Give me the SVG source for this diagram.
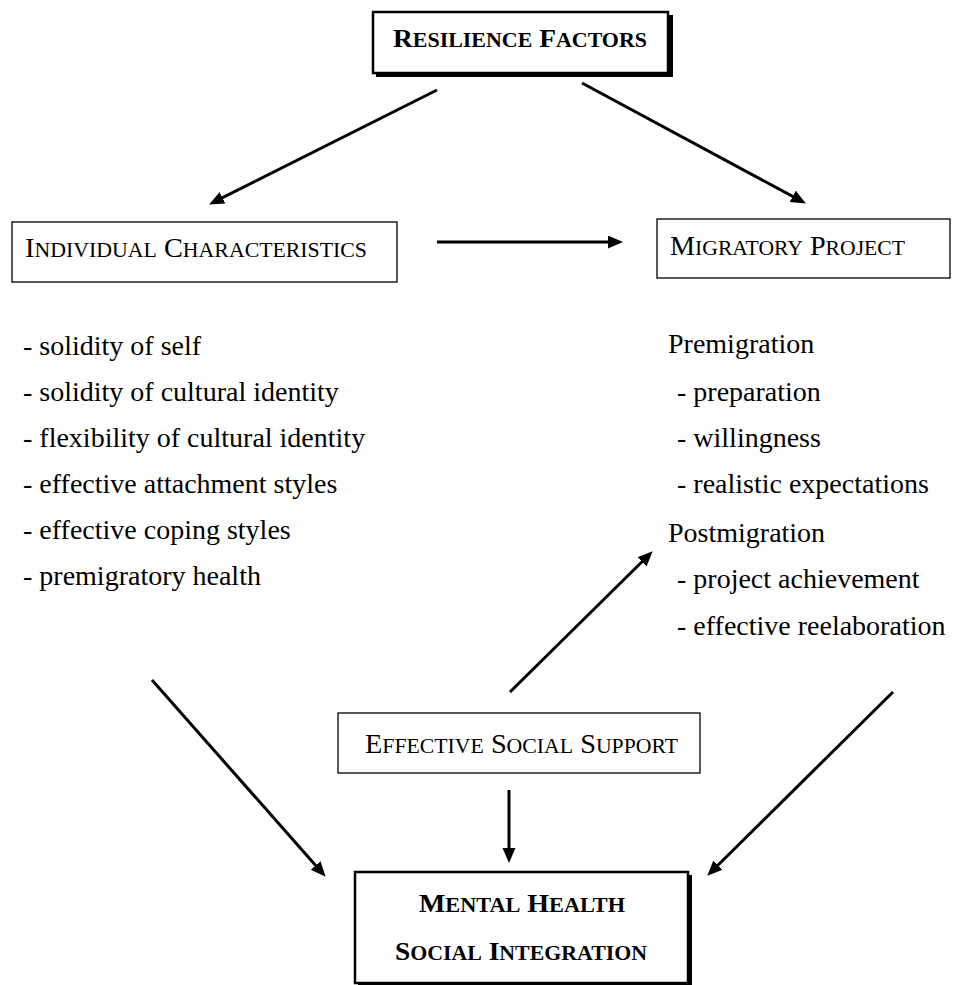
<svg xmlns="http://www.w3.org/2000/svg" width="956" height="985" viewBox="0 0 956 985">
<style>
  .box { fill: #fff; stroke: #000; stroke-width: 1.3; }
  .bold-box { fill: #fff; stroke: #000; stroke-width: 2.5; }
  .shadow { fill: #000; }
  .lbl { font-family: "Liberation Serif", "Times New Roman", serif; fill: #000; }
  .b { font-weight: bold; }
  .txt { font-family: "Liberation Serif", "Times New Roman", serif; font-size: 28px; fill: #000; }
  .conn { stroke: #000; stroke-width: 3; fill: none; marker-end: url(#ah); }
</style>
<defs>
  <marker id="ah" markerUnits="userSpaceOnUse" markerWidth="16" markerHeight="14" refX="10" refY="6.5" orient="auto">
    <path d="M0,0 L15,6.5 L0,13 z" fill="#000"/>
  </marker>
</defs>
<rect width="956" height="985" fill="#fff"/>

<g id="resilience">
  <rect class="shadow" x="376" y="15" width="297" height="62"/>
  <rect class="bold-box" x="373" y="12" width="295" height="61"/>
  <text class="lbl b" x="393" y="47" textLength="254" lengthAdjust="spacingAndGlyphs"><tspan font-size="25">R</tspan><tspan font-size="20">ESILIENCE</tspan><tspan font-size="25"> F</tspan><tspan font-size="20">ACTORS</tspan></text>
</g>

<g id="individual">
  <rect class="box" x="12" y="222" width="385" height="60"/>
  <text class="lbl" x="25" y="257" textLength="342" lengthAdjust="spacingAndGlyphs"><tspan font-size="28">I</tspan><tspan font-size="21.5">NDIVIDUAL</tspan><tspan font-size="28"> C</tspan><tspan font-size="21.5">HARACTERISTICS</tspan></text>
</g>

<g id="migratory">
  <rect class="box" x="657" y="219" width="293" height="59"/>
  <text class="lbl" x="670" y="255" textLength="235" lengthAdjust="spacingAndGlyphs"><tspan font-size="28">M</tspan><tspan font-size="21.5">IGRATORY</tspan><tspan font-size="28"> P</tspan><tspan font-size="21.5">ROJECT</tspan></text>
</g>

<g id="individual-list">
  <text class="txt" x="23" y="355">- solidity of self</text>
  <text class="txt" x="23" y="401">- solidity of cultural identity</text>
  <text class="txt" x="23" y="447">- flexibility of cultural identity</text>
  <text class="txt" x="23" y="493">- effective attachment styles</text>
  <text class="txt" x="23" y="539">- effective coping styles</text>
  <text class="txt" x="23" y="585">- premigratory health</text>
</g>

<g id="migratory-list">
  <text class="txt" x="668" y="353">Premigration</text>
  <text class="txt" x="677" y="401">- preparation</text>
  <text class="txt" x="677" y="447">- willingness</text>
  <text class="txt" x="677" y="493">- realistic expectations</text>
  <text class="txt" x="668" y="542">Postmigration</text>
  <text class="txt" x="677" y="588">- project achievement</text>
  <text class="txt" x="677" y="635">- effective reelaboration</text>
</g>

<g id="social-support">
  <rect class="box" x="338" y="713" width="362" height="60"/>
  <text class="lbl" x="365" y="753" textLength="313" lengthAdjust="spacingAndGlyphs"><tspan font-size="28">E</tspan><tspan font-size="21.5">FFECTIVE</tspan><tspan font-size="28"> S</tspan><tspan font-size="21.5">OCIAL</tspan><tspan font-size="28"> S</tspan><tspan font-size="21.5">UPPORT</tspan></text>
</g>

<g id="mental-health">
  <rect class="shadow" x="358" y="875" width="334" height="112"/>
  <rect class="bold-box" x="355" y="872" width="333" height="111"/>
  <text class="lbl b" x="419" y="912" textLength="206" lengthAdjust="spacingAndGlyphs"><tspan font-size="25">M</tspan><tspan font-size="20">ENTAL</tspan><tspan font-size="25"> H</tspan><tspan font-size="20">EALTH</tspan></text>
  <text class="lbl b" x="395" y="960" textLength="252" lengthAdjust="spacingAndGlyphs"><tspan font-size="25">S</tspan><tspan font-size="20">OCIAL</tspan><tspan font-size="25"> I</tspan><tspan font-size="20">NTEGRATION</tspan></text>
</g>

<g id="connectors">
  <line class="conn" x1="437" y1="90" x2="213.6" y2="202.2"/>
  <line class="conn" x1="582" y1="83" x2="801.5" y2="201.1"/>
  <line class="conn" x1="437" y1="242" x2="618" y2="242"/>
  <line class="conn" x1="152" y1="680" x2="322.3" y2="873"/>
  <line class="conn" x1="893" y1="692" x2="710.8" y2="872.2"/>
  <line class="conn" x1="510" y1="692" x2="649.1" y2="554.8"/>
  <line class="conn" x1="509" y1="790" x2="509" y2="858"/>
</g>
</svg>
